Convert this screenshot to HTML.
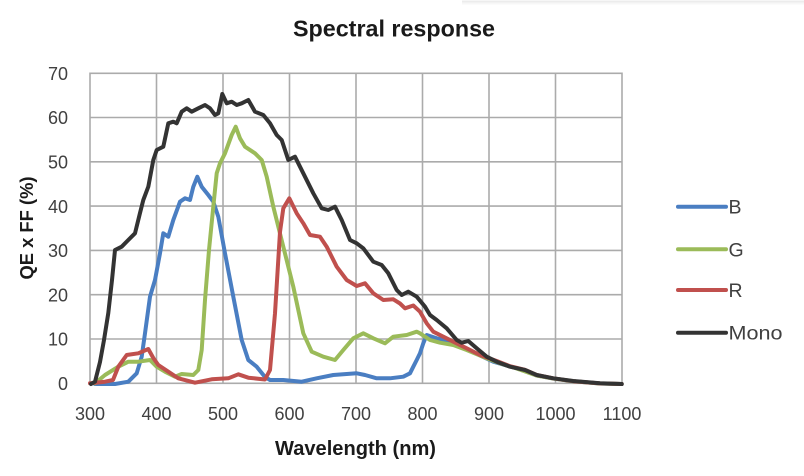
<!DOCTYPE html>
<html>
<head>
<meta charset="utf-8">
<style>
  html, body { margin: 0; padding: 0; background: #ffffff; }
  body { width: 804px; height: 476px; overflow: hidden; }
  svg { display: block; }
  text { font-family: "Liberation Sans", sans-serif; }
</style>
</head>
<body>
<svg width="804" height="476" viewBox="0 0 804 476" xmlns="http://www.w3.org/2000/svg">
  <rect x="0" y="0" width="804" height="476" fill="#ffffff"/>
  <!-- faint top line -->
  <line x1="462" y1="1.5" x2="804" y2="1.5" stroke="#ececec" stroke-width="2"/>
  <line x1="462" y1="3.5" x2="804" y2="3.5" stroke="#f7f7f7" stroke-width="2"/>

  <!-- Title -->
  <text x="394" y="36.7" text-anchor="middle" font-size="23" font-weight="bold" fill="#1a1a1a" textLength="202" lengthAdjust="spacingAndGlyphs">Spectral response</text>

  <!-- Grid -->
  <g stroke="#ababab" stroke-width="1.6" fill="none">
    <line x1="156.5" y1="73.3" x2="156.5" y2="383.3"/>
    <line x1="223" y1="73.3" x2="223" y2="383.3"/>
    <line x1="289.5" y1="73.3" x2="289.5" y2="383.3"/>
    <line x1="356" y1="73.3" x2="356" y2="383.3"/>
    <line x1="422.5" y1="73.3" x2="422.5" y2="383.3"/>
    <line x1="489" y1="73.3" x2="489" y2="383.3"/>
    <line x1="555.5" y1="73.3" x2="555.5" y2="383.3"/>
    <line x1="90" y1="117.5" x2="622" y2="117.5"/>
    <line x1="90" y1="161.8" x2="622" y2="161.8"/>
    <line x1="90" y1="206.1" x2="622" y2="206.1"/>
    <line x1="90" y1="250.4" x2="622" y2="250.4"/>
    <line x1="90" y1="294.7" x2="622" y2="294.7"/>
    <line x1="90" y1="339" x2="622" y2="339"/>
    <rect x="90" y="73.3" width="532" height="310"/>
  </g>

  <!-- Y tick labels -->
  <g font-size="18" fill="#404040" text-anchor="end">
    <text x="68" y="80">70</text>
    <text x="68" y="124.2">60</text>
    <text x="68" y="168.5">50</text>
    <text x="68" y="212.8">40</text>
    <text x="68" y="257.1">30</text>
    <text x="68" y="301.4">20</text>
    <text x="68" y="345.7">10</text>
    <text x="68" y="390">0</text>
  </g>

  <!-- X tick labels -->
  <g font-size="18" fill="#404040" text-anchor="middle">
    <text x="90" y="420">300</text>
    <text x="156.5" y="420">400</text>
    <text x="223" y="420">500</text>
    <text x="289.5" y="420">600</text>
    <text x="356" y="420">700</text>
    <text x="422.5" y="420">800</text>
    <text x="489" y="420">900</text>
    <text x="555.5" y="420">1000</text>
    <text x="622" y="420">1100</text>
  </g>

  <!-- Axis titles -->
  <text x="355.5" y="455" text-anchor="middle" font-size="20" font-weight="bold" fill="#1a1a1a" textLength="161" lengthAdjust="spacingAndGlyphs">Wavelength (nm)</text>
  <text transform="translate(33,228) rotate(-90)" text-anchor="middle" font-size="18.5" font-weight="bold" fill="#1a1a1a" textLength="103" lengthAdjust="spacingAndGlyphs">QE x FF (%)</text>

  <!-- Series -->
  <g fill="none" stroke-width="4" stroke-linejoin="round" stroke-linecap="round">
    <!-- B -->
    <polyline stroke="#4a7ec2" points="95,384 115,384 128.3,381.7 136.7,373.3 141.7,356.7 145,333.3 150,296.7 155,280 160,253.3 163.3,233.3 168.3,236.7 173.3,220 180,201.7 185,198.3 190,200 193.3,186.7 197.3,176.7 201.7,186.7 208.3,195 213.3,201.7 218.3,216.7 225,253.3 233.3,296.7 241.7,340 248.3,360 256.7,366.7 265,377 270,380 283.3,380 301.7,381.7 316.7,378.3 333.3,375 356.7,373.3 365,375 376.7,378.3 390,378.3 403.3,376.7 410,373.3 413.3,366.7 416.7,360 420,353.3 423.3,343.3 426.7,335 436.7,338.3 453.3,342.7 466.7,349 480,355.5 493.3,361.7 516.7,368.3 536.7,375.5 553.3,378.5 573.3,381.3 600,383.5 621.7,384"/>
    <!-- G -->
    <polyline stroke="#9bbb59" points="95,383.3 105,375 118.3,366.7 128.3,361.7 138.3,361.7 150,360 156.7,366.7 165,371.7 175,376.7 181.7,374 193.3,375 198.3,370 201.7,350 205,300 209,250 213.3,206.7 216.7,173.3 220,163.3 225,153.3 231.7,135 235.7,126.7 240,138.3 245,146.7 255,153.3 261.7,160 266.7,176.7 273.3,206.7 283.3,246.7 293.3,286.7 303.3,333.3 311.7,351.7 323.3,356.7 335,360 343.3,350 353.3,338.3 363.3,333.3 373.3,338.3 385,343.3 393.3,336.7 406.7,335 416.7,331.7 420,333.3 430,340 440,342.7 453.3,345 466.7,350 486.7,358.3 500,363.3 516.7,368.5 536.7,375.5 553.3,378.5 573.3,381.3 600,383.5 621.7,384"/>
    <!-- R -->
    <polyline stroke="#c0504d" points="90,383.3 105,381.7 113,380 118.3,366.7 126.7,355 138.3,353.3 148.3,349 153.3,358 158.3,365 168.3,371.7 178.3,378.3 195,382.7 211.7,379.3 228.3,378.3 238.3,374.3 248.3,377.7 265,379.5 270,370 275,313.3 280,232 283.3,208.3 289.3,198.3 296.7,213.3 303.3,223.3 310,235 320,236.7 326.7,246.7 336.7,266.7 346.7,280 356.7,286 365,283.3 373.3,293.3 383.3,300 393.3,299.3 400,303.5 405,308.3 413.3,305.5 420,311.7 426.7,323.3 433.3,331.7 443.3,336.7 453.3,341.7 466.7,348.3 480,355 496.7,361 510,366.2 525,369.8 536.7,375 553.3,378.3 573.3,381.2 600,383.4 621.7,384"/>
    <!-- Mono -->
    <polyline stroke="#333333" points="91,384 95,381.7 100,362 104,340 108.3,313 112,280 115,250 121.7,246.7 128.3,240 135,233.3 140,213 143.3,200 148.3,186.7 153.3,160 156.7,150 163.3,146.7 168.3,123.3 173.3,121.7 176.7,123.3 181.7,111.7 186.7,108.3 191.7,111.7 198.3,108.3 205,105 210,108.3 215,115 218.3,113.3 222.3,94 226.7,103.3 231.7,101.7 236.7,105 241.7,103.3 248.3,100 255,111.7 263.3,115 270,123.3 276.7,135 281.7,140 288.3,160 295,156.7 303.3,173.3 313.3,193.3 321.7,208.3 328.3,210 335,206.7 341.7,220 350,240 356.7,243.3 363.3,248.3 373.3,261.7 381.7,265 388.3,273.3 396.7,290 401.7,295 408.3,291.7 416.7,296.7 425,306.7 430,315 436.7,320 446.7,328.3 456.7,340 461.7,342.7 468.3,341 476.7,348.3 486.7,356.7 496.7,361.7 510,366.7 525,370 536.7,375 553.3,378.3 573.3,381 600,383.3 621.7,384"/>
  </g>

  <!-- Legend -->
  <g stroke-width="4" stroke-linecap="round">
    <line x1="678" y1="206.7" x2="726" y2="206.7" stroke="#4a7ec2"/>
    <line x1="678" y1="249.3" x2="726" y2="249.3" stroke="#9bbb59"/>
    <line x1="678" y1="290" x2="726" y2="290" stroke="#c0504d"/>
    <line x1="678" y1="332.7" x2="726" y2="332.7" stroke="#333333"/>
  </g>
  <g font-size="19.5" fill="#404040">
    <text x="728.5" y="213.7">B</text>
    <text x="728.5" y="256.3">G</text>
    <text x="728.5" y="297">R</text>
    <text x="728.5" y="339.7" textLength="54" lengthAdjust="spacingAndGlyphs">Mono</text>
  </g>
</svg>
</body>
</html>
